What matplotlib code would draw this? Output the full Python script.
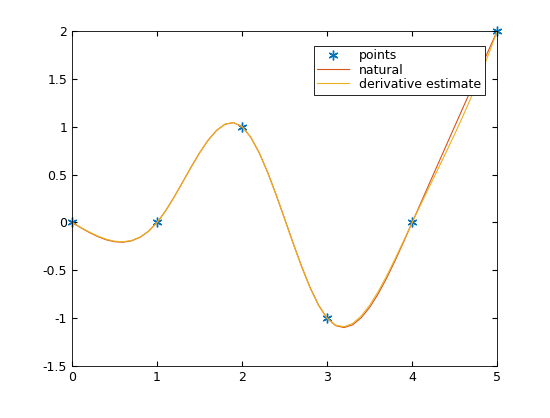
import numpy as np
import matplotlib
matplotlib.use("Agg")
import matplotlib.pyplot as plt
from matplotlib.ticker import FormatStrFormatter

x_pts = [0, 1, 2, 3, 4, 5]
y_pts = [0, 0, 1, -1, 0, 2]


def cubic_spline(x, y, xs, bc):
    # bc: None for natural, (d0, dn) for clamped end slopes
    x = np.asarray(x, float)
    y = np.asarray(y, float)
    n = len(x)
    h = np.diff(x)
    A = np.zeros((n, n))
    r = np.zeros(n)
    for i in range(1, n - 1):
        A[i, i - 1] = h[i - 1]
        A[i, i] = 2 * (h[i - 1] + h[i])
        A[i, i + 1] = h[i]
        r[i] = 6 * ((y[i + 1] - y[i]) / h[i] - (y[i] - y[i - 1]) / h[i - 1])
    if bc is None:
        A[0, 0] = 1
        A[-1, -1] = 1
    else:
        d0, dn = bc
        A[0, 0], A[0, 1] = 2 * h[0], h[0]
        r[0] = 6 * ((y[1] - y[0]) / h[0] - d0)
        A[-1, -2], A[-1, -1] = h[-1], 2 * h[-1]
        r[-1] = 6 * (dn - (y[-1] - y[-2]) / h[-1])
    M = np.linalg.solve(A, r)
    idx = np.clip(np.searchsorted(x, xs) - 1, 0, n - 2)
    x0, x1 = x[idx], x[idx + 1]
    hh = x1 - x0
    a = (x1 - xs) / hh
    b = (xs - x0) / hh
    return (a * y[idx] + b * y[idx + 1]
            + ((a ** 3 - a) * M[idx] + (b ** 3 - b) * M[idx + 1]) * hh ** 2 / 6)


xs = np.linspace(0, 5, 51)
y = y_pts
d0 = (-3 * y[0] + 4 * y[1] - y[2]) / 2
dn = (y[-3] - 4 * y[-2] + 3 * y[-1]) / 2
y_nat = cubic_spline(x_pts, y_pts, xs, None)
y_der = cubic_spline(x_pts, y_pts, xs, (d0, dn))

fig = plt.figure(figsize=(5.5, 4.18), dpi=100)
ax = fig.add_axes([0.131, 0.124, 0.773, 0.802])
ax.plot(x_pts, y_pts, marker=(6, 2, 0), color="#0072BD", ms=7, mew=1,
        label="points", lw=0, clip_on=False)
ax.plot(xs, y_nat, color="#D95319", lw=0.8, label="natural")
ax.plot(xs, y_der, color="#EDB120", lw=0.8, label="derivative estimate")
ax.set_xlim(0, 5)
ax.set_ylim(-1.5, 2)
ax.set_yticks(np.arange(-1.5, 2.01, 0.5))
ax.xaxis.set_major_formatter(FormatStrFormatter("%g"))
ax.yaxis.set_major_formatter(FormatStrFormatter("%g"))
ax.tick_params(direction="in", labelsize=9, top=True, right=True)
for s in ax.spines.values():
    s.set_linewidth(0.6)
leg = ax.legend(loc="upper right", bbox_to_anchor=(0.985, 0.975), fontsize=9,
                fancybox=False, edgecolor="black", framealpha=1,
                borderpad=0.3, labelspacing=0.1, handlelength=2.5)
leg.get_frame().set_linewidth(0.6)
fig.savefig("out.png", dpi=100)
